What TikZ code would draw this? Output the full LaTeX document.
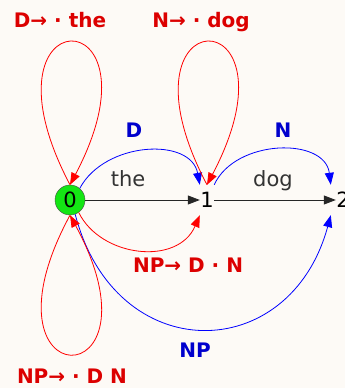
\documentclass[tikz,border=0pt]{standalone}
\usepackage{fontspec}
\setmainfont{DejaVu Sans}
\usetikzlibrary{arrows.meta}
\definecolor{bgpaper}{RGB}{253,250,246}
\definecolor{lblred}{RGB}{220,0,0}
\definecolor{lblblue}{RGB}{0,0,205}
\definecolor{nodegreen}{RGB}{20,230,20}
\begin{document}
\begin{tikzpicture}[x=1pt,y=1pt,
    headed/.style={-{Triangle[length=12pt,width=9pt]}},
    blackarc/.style={headed,black!85,line width=0.8pt},
    redarc/.style={headed,red,line width=0.8pt},
    bluearc/.style={headed,blue,line width=0.8pt},
    statenode/.style={inner sep=0pt,minimum width=14pt,minimum height=30pt,font=\fontsize{21}{24}\selectfont},
    plainlbl/.style={anchor=base,text=black!80,font=\fontsize{21}{24}\selectfont},
    redlbl/.style={anchor=base,text=lblred,font=\fontsize{20}{24}\selectfont\bfseries},
    bluelbl/.style={anchor=base,text=lblblue,font=\fontsize{20}{24}\selectfont\bfseries}]
    \fill[bgpaper](0,0) rectangle (345,388);
    \useasboundingbox (0,0) rectangle (345,388);
    % states
    \node[circle,draw=black!70,fill=nodegreen,minimum size=30pt,inner sep=0pt,font=\fontsize{21}{24}\selectfont](n0) at (70,188) {0};
    \node[statenode](n1) at (207,188) {1};
    \node[statenode](n2) at (343,188) {2};
    % scanned words
    \draw[blackarc](n0)--(n1);
    \draw[blackarc](n1)--(n2);
    \node[plainlbl](lblthe) at (128,201) {the};
    \node[plainlbl](lbldog) at (273,201) {dog};
    % completed constituents
    \draw[bluearc](n0.50) .. controls +(25,47) and +(-9,48) .. (n1.north west);
    \draw[bluearc](n1.north east) .. controls +(21,46) and +(-6,48) .. ([xshift=-5pt]n2.north west);
    \draw[bluearc](n0.-70) .. controls +(40,-154) and +(-41,-151) .. ([xshift=-5pt]n2.south west);
    \node[bluelbl](lblD) at (134,250) {D};
    \node[bluelbl](lblN) at (283,250) {N};
    \node[bluelbl](lblNP) at (195,30) {NP};
    % dotted rules
    \draw[redarc](n0.-55) .. controls +(22,-45) and +(-22,-51) .. (n1.south west);
    \draw[redarc](n0.north) .. controls +(-100,190) and +(100,190) .. (n0.north);
    \draw[redarc](n1.north) .. controls +(-100,190) and +(100,190) .. (n1.north);
    \draw[redarc](n0.south) .. controls +(-100,-185) and +(100,-185) .. (n0.south);
    \node[redlbl](lbldet) at (60,360) {D→ · the};
    \node[redlbl](lblnoun) at (201,360) {N→ · dog};
    \node[redlbl](lblnpmid) at (188,115) {NP→ D · N};
    \node[redlbl](lblnpstart) at (72,5) {NP→ · D N};
\end{tikzpicture}
\end{document}
